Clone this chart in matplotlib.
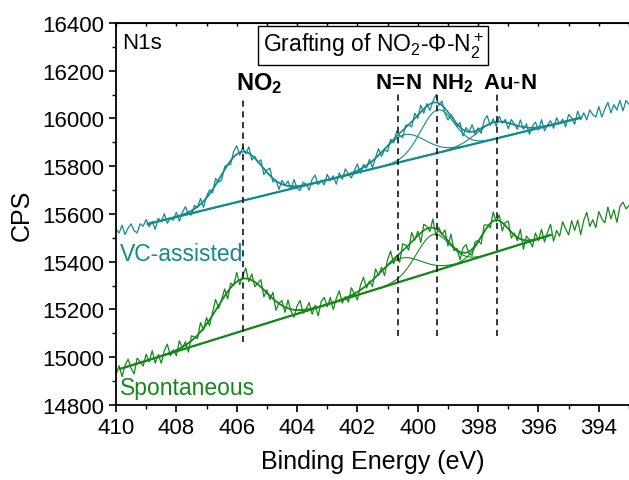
import numpy as np
import matplotlib
matplotlib.use('Agg')
import matplotlib.pyplot as plt
from matplotlib.ticker import MultipleLocator

plt.rcParams['font.family'] = ['Liberation Sans', 'DejaVu Sans']
plt.rcParams['mathtext.fontset'] = 'custom'
plt.rcParams['mathtext.rm'] = 'Liberation Sans'
plt.rcParams['mathtext.it'] = 'Liberation Sans:italic'
plt.rcParams['mathtext.bf'] = 'Liberation Sans:bold'

# ---------------- data ----------------
energy_start, energy_stop, n_points = 410.0, 393.0, 171

vc_counts = [
    15537, 15520, 15553, 15514, 15541, 15559, 15530, 15521, 15559, 15549,
    15577, 15547, 15569, 15536, 15582, 15567, 15601, 15561, 15584, 15574,
    15607, 15570, 15607, 15631, 15600, 15596, 15636, 15627, 15665, 15628,
    15673, 15701, 15689, 15749, 15733, 15743, 15798, 15807, 15807, 15863,
    15886, 15846, 15880, 15852, 15881, 15826, 15841, 15817, 15827, 15765,
    15784, 15792, 15734, 15743, 15703, 15741, 15719, 15738, 15704, 15744,
    15708, 15698, 15733, 15725, 15700, 15746, 15763, 15723, 15742, 15722,
    15766, 15740, 15760, 15725, 15772, 15745, 15789, 15767, 15751, 15783,
    15809, 15771, 15807, 15792, 15829, 15795, 15836, 15873, 15841, 15869,
    15861, 15913, 15898, 15946, 15928, 15920, 15971, 15975, 15965, 16022,
    16001, 16056, 16022, 16063, 16034, 16071, 16099, 16055, 16073, 16022,
    15994, 16017, 15996, 15966, 15983, 15927, 15962, 15944, 15974, 15934,
    15961, 15938, 15992, 16012, 15971, 15998, 15968, 16009, 15980, 15996,
    15957, 15996, 15976, 15955, 15994, 15955, 15978, 15934, 15968, 15985,
    15952, 15995, 15948, 15974, 15991, 15959, 16003, 15977, 15997, 15965,
    16017, 16003, 15976, 16031, 15995, 16024, 15994, 16036, 16016, 16006,
    16050, 16006, 16041, 16067, 16024, 16058, 16035, 16076, 16032, 16075,
    16060]

sp_counts = [
    14926, 14965, 14919, 14966, 14992, 14954, 14930, 14996, 14982, 14963,
    15013, 14981, 15028, 14975, 15011, 14975, 15028, 15055, 15006, 15031,
    15006, 15069, 15039, 15065, 15022, 15090, 15085, 15078, 15145, 15114,
    15166, 15132, 15189, 15242, 15205, 15242, 15286, 15244, 15310, 15301,
    15355, 15304, 15341, 15374, 15317, 15349, 15295, 15310, 15325, 15253,
    15282, 15242, 15272, 15197, 15227, 15237, 15188, 15240, 15192, 15168,
    15215, 15238, 15184, 15202, 15229, 15180, 15218, 15173, 15233, 15251,
    15211, 15250, 15200, 15246, 15278, 15227, 15254, 15231, 15291, 15266,
    15240, 15301, 15335, 15290, 15319, 15296, 15370, 15343, 15377, 15342,
    15409, 15445, 15392, 15426, 15398, 15475, 15470, 15449, 15523, 15490,
    15528, 15481, 15557, 15548, 15527, 15579, 15510, 15543, 15514, 15533,
    15466, 15516, 15447, 15456, 15408, 15458, 15472, 15434, 15427, 15483,
    15489, 15474, 15554, 15554, 15542, 15608, 15568, 15596, 15529, 15565,
    15570, 15499, 15520, 15488, 15536, 15452, 15508, 15492, 15462, 15520,
    15488, 15536, 15483, 15523, 15557, 15486, 15531, 15507, 15567, 15537,
    15512, 15572, 15531, 15574, 15514, 15573, 15607, 15548, 15576, 15543,
    15610, 15580, 15563, 15629, 15580, 15618, 15565, 15632, 15650, 15622,
    15634]

# fitted components (linear background + Gaussian peaks)
vc_baseline_x = [408.95, 394.6]
vc_baseline_y = [15558, 16003]
vc_peak_centers = [405.85, 400.45, 399.35, 397.45]
vc_peak_heights = [206, 110, 180, 70]
vc_peak_sigmas = [0.68, 0.68, 0.55, 0.60]

sp_baseline_x = [409.87, 395.6]
sp_baseline_y = [14951, 15512]
sp_peak_centers = [405.83, 400.6, 399.5, 397.45]
sp_peak_heights = [218, 98, 155, 134]
sp_peak_sigmas = [0.80, 0.70, 0.55, 0.45]

marker_labels = [r'$\mathbf{NO_2}$', r'$\mathbf{N\!=\!N}$', r'$\mathbf{NH_2}$', r'$\mathbf{Au\text{-}N}$']
marker_energies = [405.8, 400.65, 399.35, 397.38]

series_names = ['VC-assisted', 'Spontaneous']

# ---------------- styling ----------------
TEAL = '#148a8c'
GREEN = '#14891a'

fig = plt.figure(figsize=(6.29, 4.81), dpi=100)
ax = fig.add_axes([116 / 629, 1 - 406 / 481, 513 / 629, 382 / 481])

energy = np.linspace(energy_start, energy_stop, n_points)


def draw_series(counts, bx, by, centers, heights, sigmas, color):
    ax.plot(energy, counts, color=color, lw=0.9, zorder=2)
    xf = np.linspace(bx[0], bx[1], 400)
    base = np.interp(xf, bx[::-1], by[::-1])
    total = base.copy()
    for c, h, s in zip(centers, heights, sigmas):
        g = h * np.exp(-(xf - c) ** 2 / (2 * s ** 2))
        total += g
        ax.plot(xf, base + g, color=color, lw=0.8, zorder=3)
    ax.plot(xf, total, color=color, lw=1.2, zorder=4)
    ax.plot(xf, base, color=color, lw=1.6, zorder=4)


draw_series(vc_counts, vc_baseline_x, vc_baseline_y, vc_peak_centers,
            vc_peak_heights, vc_peak_sigmas, TEAL)
draw_series(sp_counts, sp_baseline_x, sp_baseline_y, sp_peak_centers,
            sp_peak_heights, sp_peak_sigmas, GREEN)

# dashed reference lines
line_lo = [15064, 15089, 15089, 15089]
line_hi = [16090, 16111, 16111, 16111]
label_x = [405.25, 400.65, 398.85, 396.95]
label_fs = [17, 16, 16, 16]
for e, lo, hi, lab, lx, fs in zip(marker_energies, line_lo, line_hi, marker_labels, label_x, label_fs):
    ax.plot([e, e], [lo, hi], color='black', lw=1.1, ls=(0, (4, 3)), zorder=5)
    ax.text(lx, 16150, lab, ha='center', va='center', fontsize=fs,
            fontweight='bold', zorder=6)

ax.text(409.8, 16320, 'N1s', ha='left', va='center', fontsize=16)
ax.text(401.48, 16306, r'Grafting of NO$_2$-Φ-N$_2^+$', ha='center', va='center',
        fontsize=16.5,
        bbox=dict(boxstyle='square,pad=0.2', fc='white', ec='black', lw=1.0))
ax.text(409.87, 15433, series_names[0], color=TEAL, ha='left', va='center', fontsize=16.5)
ax.text(409.87, 14875, series_names[1], color=GREEN, ha='left', va='center', fontsize=16.5)

ax.set_xlim(410, 393)
ax.set_ylim(14800, 16400)
ax.xaxis.set_major_locator(MultipleLocator(2))
ax.xaxis.set_minor_locator(MultipleLocator(1))
ax.yaxis.set_major_locator(MultipleLocator(200))
ax.yaxis.set_minor_locator(MultipleLocator(100))
ax.tick_params(which='major', direction='out', length=5, width=1.2, labelsize=16)
ax.tick_params(which='minor', direction='out', length=3, width=1.0)
ax.spines['right'].set_visible(False)
for sp in ['left', 'bottom', 'top']:
    ax.spines[sp].set_linewidth(1.3)

sec = ax.secondary_xaxis('top')
sec.xaxis.set_major_locator(MultipleLocator(1))
sec.tick_params(direction='in', length=2.5, width=1.0, labeltop=False)

ax.set_xlabel('Binding Energy (eV)', fontsize=18, labelpad=8)
ax.set_ylabel('CPS', fontsize=18, labelpad=6)

fig.savefig('out.png', dpi=100)
